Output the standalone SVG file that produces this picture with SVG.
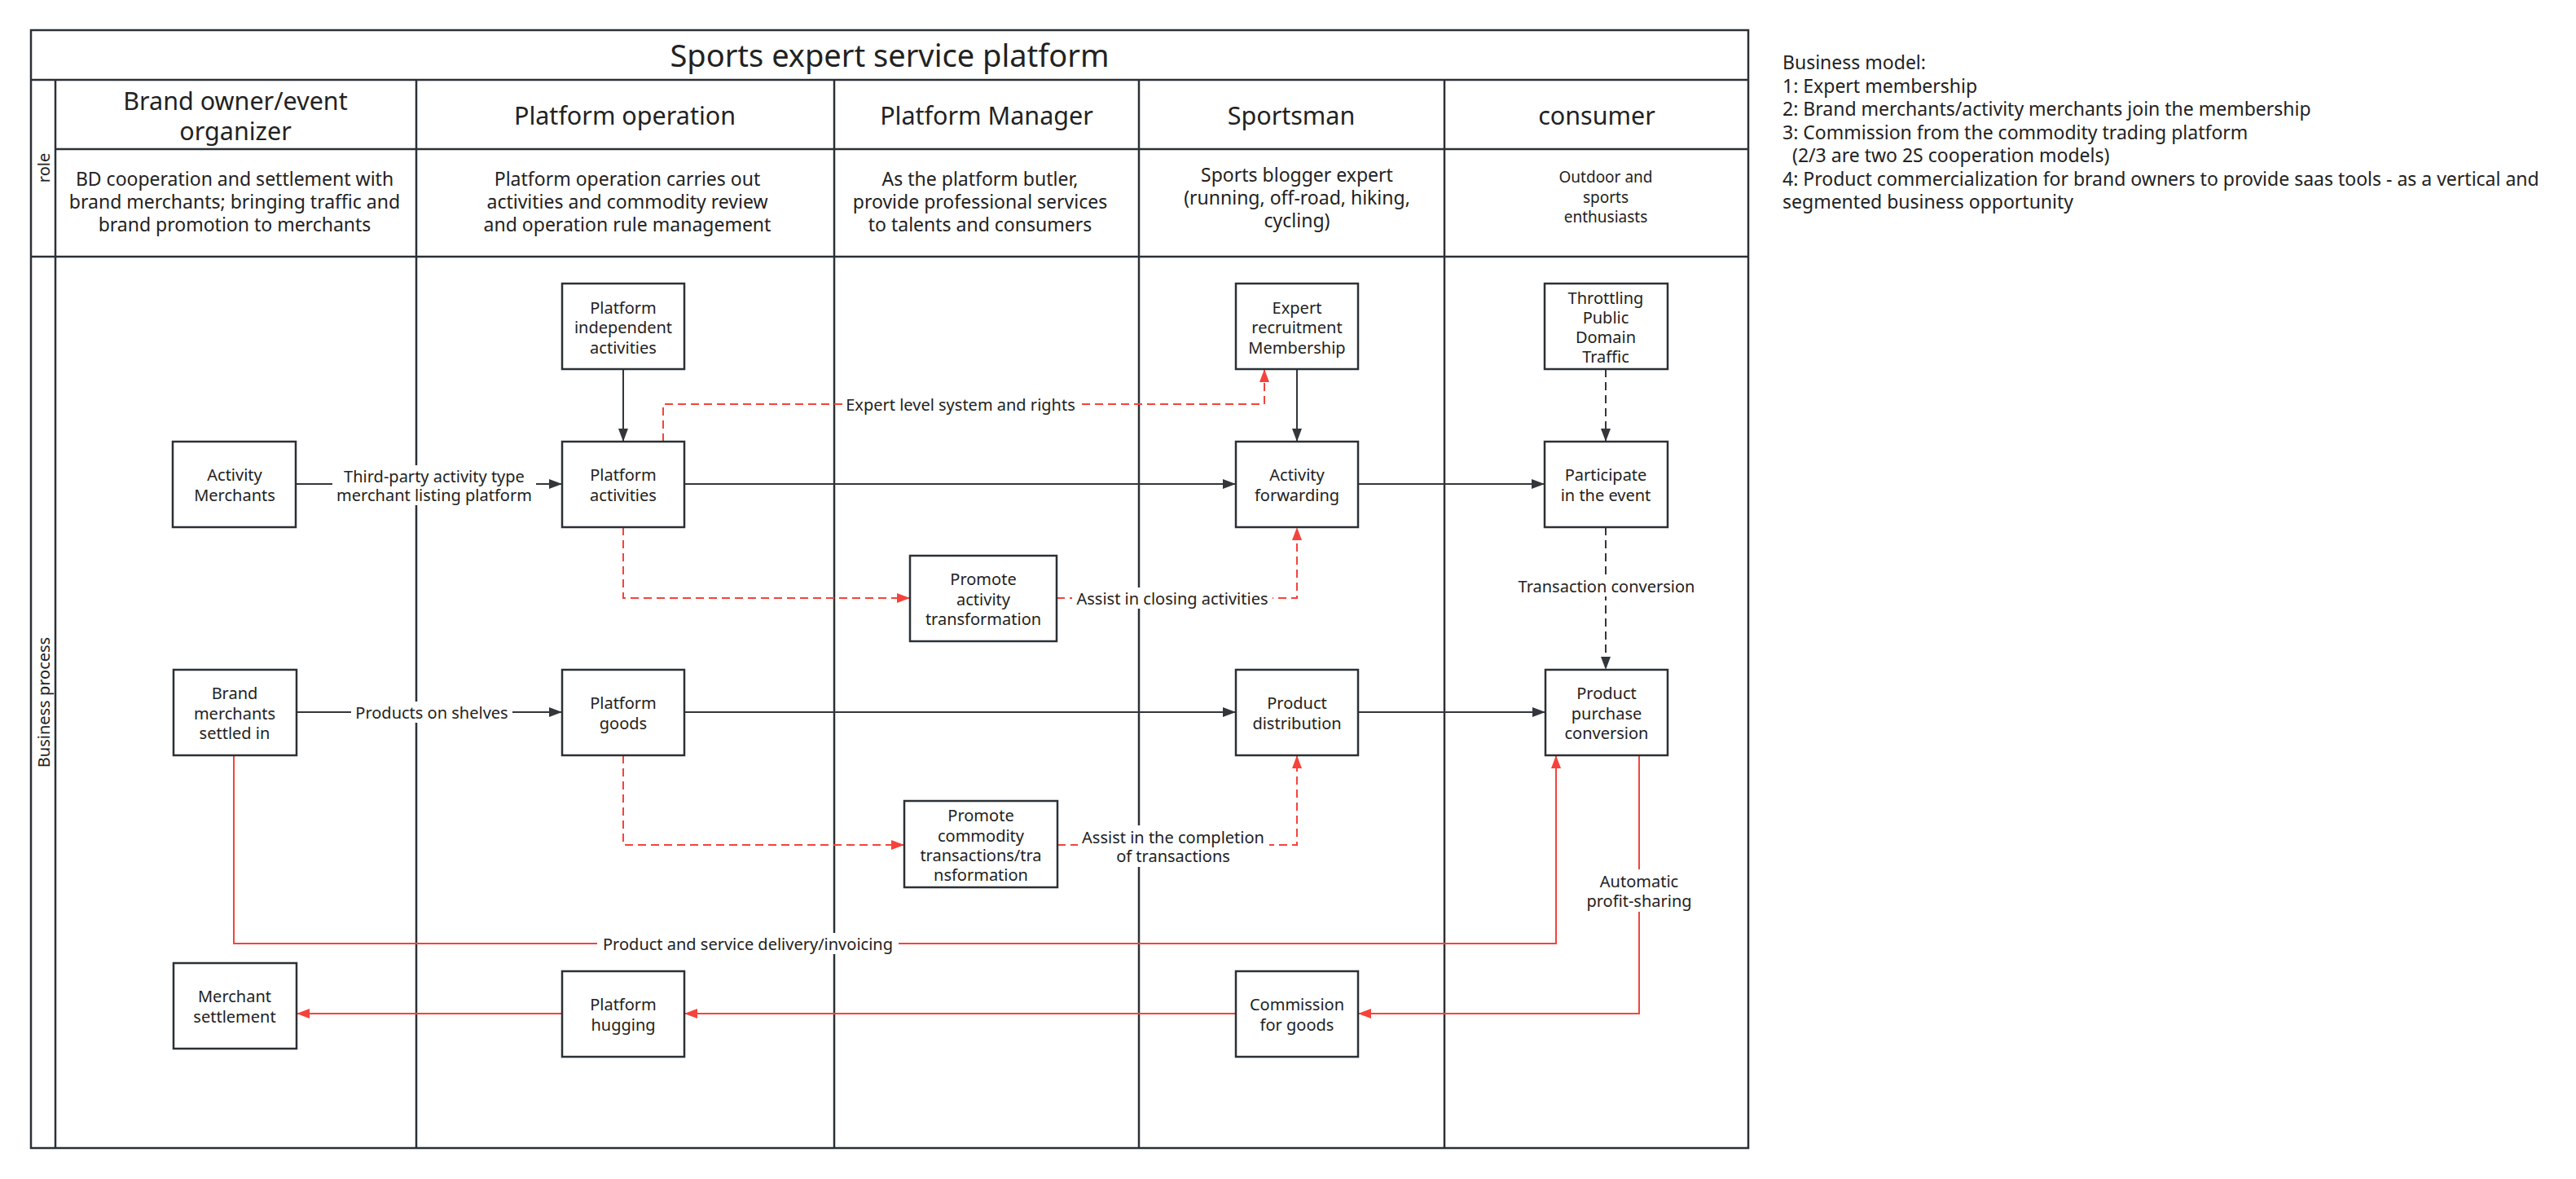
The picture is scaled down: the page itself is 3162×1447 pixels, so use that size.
<svg xmlns="http://www.w3.org/2000/svg" width="3162" height="1447" viewBox="0 0 3162 1447">
<style>
text{font-family:"Noto Sans","Open Sans","Liberation Sans",sans-serif;fill:#222;dominant-baseline:central;text-anchor:middle}
.frame{fill:none;stroke:#2b3035;stroke-width:2.5}
.node rect{fill:#fff;stroke:#2b3035;stroke-width:2.5}
.node text{font-size:20px}
.title{font-size:38px}
.head{font-size:30.5px}
.rtxt{font-size:23px}
.rsm{font-size:19px}
.vtxt{font-size:20px}
.lbl{font-size:20px}
.lblbg{fill:#fff}
.bl{fill:none;stroke:#33373b;stroke-width:2}
.bld{fill:none;stroke:#33373b;stroke-width:2;stroke-dasharray:10 6}
.rd{fill:none;stroke:#f5433b;stroke-width:2;stroke-dasharray:10 6}
.rs{fill:none;stroke:#f5433b;stroke-width:2}
.bm{font-size:23px;text-anchor:start}
</style>
<defs>
<marker id="ab" markerUnits="userSpaceOnUse" markerWidth="18" markerHeight="14" refX="16" refY="6" orient="auto">
<path d="M0,0 L16,6 L0,12 Z" fill="#33373b"/>
</marker>
<marker id="ar" markerUnits="userSpaceOnUse" markerWidth="18" markerHeight="14" refX="16" refY="6" orient="auto">
<path d="M0,0 L16,6 L0,12 Z" fill="#f5433b"/>
</marker>
</defs>
<rect width="3162" height="1447" fill="#fff"/>

<g id="pool">
<rect class="frame" x="38" y="37" width="2108" height="1372"/>
<line class="frame" x1="38" y1="98" x2="2146" y2="98"/>
<line class="frame" x1="68" y1="98" x2="68" y2="1409"/>
<line class="frame" x1="68" y1="183" x2="2146" y2="183"/>
<line class="frame" x1="38" y1="315" x2="2146" y2="315"/>
<line class="frame" x1="511" y1="98" x2="511" y2="1409"/>
<line class="frame" x1="1024" y1="98" x2="1024" y2="1409"/>
<line class="frame" x1="1398" y1="98" x2="1398" y2="1409"/>
<line class="frame" x1="1773" y1="98" x2="1773" y2="1409"/>
<text class="title" x="1092" y="67">Sports expert service platform</text>
<text class="head" x="289" y="123">Brand owner/event</text>
<text class="head" x="289" y="160">organizer</text>
<text class="head" x="767" y="141">Platform operation</text>
<text class="head" x="1211" y="141">Platform Manager</text>
<text class="head" x="1585" y="141">Sportsman</text>
<text class="head" x="1960" y="141">consumer</text>
<text class="vtxt" transform="translate(53,206) rotate(-90)">role</text>
<text class="vtxt" transform="translate(53,862) rotate(-90)">Business process</text>
<text class="rtxt" x="288" y="219">BD cooperation and settlement with</text>
<text class="rtxt" x="288" y="247">brand merchants; bringing traffic and</text>
<text class="rtxt" x="288" y="275">brand promotion to merchants</text>
<text class="rtxt" x="770" y="219">Platform operation carries out</text>
<text class="rtxt" x="770" y="247">activities and commodity review</text>
<text class="rtxt" x="770" y="275">and operation rule management</text>
<text class="rtxt" x="1203" y="219">As the platform butler,</text>
<text class="rtxt" x="1203" y="247">provide professional services</text>
<text class="rtxt" x="1203" y="275">to talents and consumers</text>
<text class="rtxt" x="1592" y="214">Sports blogger expert</text>
<text class="rtxt" x="1592" y="242">(running, off-road, hiking,</text>
<text class="rtxt" x="1592" y="270">cycling)</text>
<text class="rsm" x="1971" y="217">Outdoor and</text>
<text class="rsm" x="1971" y="242">sports</text>
<text class="rsm" x="1971" y="266">enthusiasts</text>
</g>

<g id="notes">
<text class="bm" x="2188" y="76">Business model:</text>
<text class="bm" x="2188" y="104.5">1: Expert membership</text>
<text class="bm" x="2188" y="133">2: Brand merchants/activity merchants join the membership</text>
<text class="bm" x="2188" y="161.5">3: Commission from the commodity trading platform</text>
<text class="bm" x="2200" y="190">(2/3 are two 2S cooperation models)</text>
<text class="bm" x="2188" y="218.5">4: Product commercialization for brand owners to provide saas tools - as a vertical and</text>
<text class="bm" x="2188" y="247">segmented business opportunity</text>
</g>

<g id="connectors">
<path class="bl" d="M363,594 H690" marker-end="url(#ab)"/>
<path class="bl" d="M765,453 V542" marker-end="url(#ab)"/>
<path class="bl" d="M840,594 H1517" marker-end="url(#ab)"/>
<path class="bl" d="M1592,453 V542" marker-end="url(#ab)"/>
<path class="bl" d="M1667,594 H1896" marker-end="url(#ab)"/>
<path class="bl" d="M364,874 H690" marker-end="url(#ab)"/>
<path class="bl" d="M840,874 H1517" marker-end="url(#ab)"/>
<path class="bl" d="M1667,874 H1897" marker-end="url(#ab)"/>
<path class="bld" d="M1971,453 V542" marker-end="url(#ab)"/>
<path class="bld" d="M1971,647 V822" marker-end="url(#ab)"/>
<path class="rd" d="M814,542 V496 H1552 V453" marker-end="url(#ar)"/>
<path class="rd" d="M765,647 V734 H1117" marker-end="url(#ar)"/>
<path class="rd" d="M1297,734 H1592 V647" marker-end="url(#ar)"/>
<path class="rd" d="M765,927 V1037 H1110" marker-end="url(#ar)"/>
<path class="rd" d="M1298,1037 H1592 V927" marker-end="url(#ar)"/>
<path class="rs" d="M287,927 V1158 H1910 V927" marker-end="url(#ar)"/>
<path class="rs" d="M2012,927 V1244 H1667" marker-end="url(#ar)"/>
<path class="rs" d="M1517,1244 H840" marker-end="url(#ar)"/>
<path class="rs" d="M690,1244 H364" marker-end="url(#ar)"/>
<rect class="lblbg" x="408" y="571" width="250" height="49"/>
<text class="lbl" x="533" y="584">Third-party activity type</text>
<text class="lbl" x="533" y="607">merchant listing platform</text>
<rect class="lblbg" x="1034" y="484" width="290" height="24"/>
<text class="lbl" x="1179" y="496">Expert level system and rights</text>
<rect class="lblbg" x="1316" y="721" width="246" height="26"/>
<text class="lbl" x="1439" y="734">Assist in closing activities</text>
<rect class="lblbg" x="1860" y="706" width="224" height="26"/>
<text class="lbl" x="1972" y="719">Transaction conversion</text>
<rect class="lblbg" x="431" y="861" width="198" height="26"/>
<text class="lbl" x="530" y="874">Products on shelves</text>
<rect class="lblbg" x="1323" y="1013" width="235" height="51"/>
<text class="lbl" x="1440" y="1027">Assist in the completion</text>
<text class="lbl" x="1440" y="1050">of transactions</text>
<rect class="lblbg" x="733" y="1145" width="370" height="26"/>
<text class="lbl" x="918" y="1158">Product and service delivery/invoicing</text>
<rect class="lblbg" x="1944" y="1067" width="137" height="52"/>
<text class="lbl" x="2012" y="1081">Automatic</text>
<text class="lbl" x="2012" y="1105">profit-sharing</text>
</g>

<g id="n-activity-merchants" class="node">
<rect x="212" y="542" width="151" height="105"/>
<text x="288" y="582">Activity</text><text x="288" y="607">Merchants</text>
</g>
<g id="n-brand-merchants" class="node">
<rect x="213" y="822" width="151" height="105"/>
<text x="288" y="850">Brand</text><text x="288" y="875">merchants</text><text x="288" y="899">settled in</text>
</g>
<g id="n-merchant-settlement" class="node">
<rect x="213" y="1182" width="151" height="105"/>
<text x="288" y="1222">Merchant</text><text x="288" y="1247">settlement</text>
</g>
<g id="n-platform-independent" class="node">
<rect x="690" y="348" width="150" height="105"/>
<text x="765" y="377">Platform</text><text x="765" y="401">independent</text><text x="765" y="426">activities</text>
</g>
<g id="n-platform-activities" class="node">
<rect x="690" y="542" width="150" height="105"/>
<text x="765" y="582">Platform</text><text x="765" y="607">activities</text>
</g>
<g id="n-platform-goods" class="node">
<rect x="690" y="822" width="150" height="105"/>
<text x="765" y="862">Platform</text><text x="765" y="887">goods</text>
</g>
<g id="n-platform-hugging" class="node">
<rect x="690" y="1192" width="150" height="105"/>
<text x="765" y="1232">Platform</text><text x="765" y="1257">hugging</text>
</g>
<g id="n-promote-activity" class="node">
<rect x="1117" y="682" width="180" height="105"/>
<text x="1207" y="710">Promote</text><text x="1207" y="735">activity</text><text x="1207" y="759">transformation</text>
</g>
<g id="n-promote-commodity" class="node">
<rect x="1110" y="983" width="188" height="106"/>
<text x="1204" y="1000">Promote</text><text x="1204" y="1025">commodity</text><text x="1204" y="1049">transactions/tra</text><text x="1204" y="1073">nsformation</text>
</g>
<g id="n-expert-recruitment" class="node">
<rect x="1517" y="348" width="150" height="105"/>
<text x="1592" y="377">Expert</text><text x="1592" y="401">recruitment</text><text x="1592" y="426">Membership</text>
</g>
<g id="n-activity-forwarding" class="node">
<rect x="1517" y="542" width="150" height="105"/>
<text x="1592" y="582">Activity</text><text x="1592" y="607">forwarding</text>
</g>
<g id="n-product-distribution" class="node">
<rect x="1517" y="822" width="150" height="105"/>
<text x="1592" y="862">Product</text><text x="1592" y="887">distribution</text>
</g>
<g id="n-commission" class="node">
<rect x="1517" y="1192" width="150" height="105"/>
<text x="1592" y="1232">Commission</text><text x="1592" y="1257">for goods</text>
</g>
<g id="n-throttling" class="node">
<rect x="1896" y="348" width="151" height="105"/>
<text x="1971" y="365">Throttling</text><text x="1971" y="389">Public</text><text x="1971" y="413">Domain</text><text x="1971" y="437">Traffic</text>
</g>
<g id="n-participate" class="node">
<rect x="1896" y="542" width="151" height="105"/>
<text x="1971" y="582">Participate</text><text x="1971" y="607">in the event</text>
</g>
<g id="n-product-purchase" class="node">
<rect x="1897" y="822" width="150" height="105"/>
<text x="1972" y="850">Product</text><text x="1972" y="875">purchase</text><text x="1972" y="899">conversion</text>
</g>
</svg>
